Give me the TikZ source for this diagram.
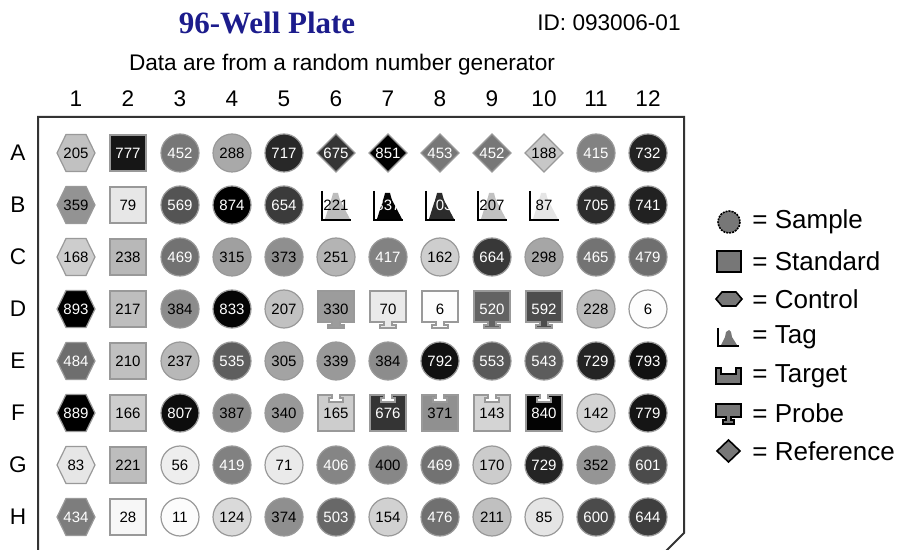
\documentclass[tikz,border=0pt]{standalone}
\usepackage{fontspec}
\setmainfont{Liberation Sans}
\newfontfamily\titlefont{Liberation Serif}
\usetikzlibrary{positioning}
\definecolor{TitleBlue}{HTML}{1C1C8C}
\definecolor{Edge}{HTML}{999999}
\definecolor{Plate}{HTML}{333333}
\definecolor{Key}{HTML}{777777}

\begin{document}
\begin{tikzpicture}[
  x=0.5pt,y=-0.5pt,
  hdr/.style={font=\fontsize{11.3}{13}\selectfont,inner sep=0pt},
  welltext/.style={font=\fontsize{7.5}{8}\selectfont,inner sep=0pt},
  keytext/.style={anchor=west,font=\fontsize{13}{15}\selectfont,inner sep=0pt},
  rim/.style={draw=Edge,line width=0.6pt},
  keyrim/.style={draw=black,line width=0.8pt,fill=Key},
  pics/wellO/.style={code={\path[rim,fill=#1] (0,0) circle (19);}},
  pics/wellS/.style={code={\path[rim,line width=0.9pt,fill=#1] (-18,-18) rectangle (18,18);}},
  pics/wellC/.style={code={\path[rim,fill=#1] (-19,0) -- (-10,-18.5) -- (10,-18.5) -- (19,0) -- (10,18.5) -- (-10,18.5) -- cycle;}},
  pics/wellR/.style={code={\path[rim,fill=#1] (-19,0) -- (0,-19) -- (19,0) -- (0,19) -- cycle;}},
  pics/wellT/.style={code={
    \fill[#1] (-11,14) -- (-5,-5) -- (-4,-8) -- (-3,-12) -- (2,-12) -- (3,-8) -- (4,-5) -- (14,14) -- cycle;
    \draw[line width=1pt] (-14,-14) -- (-14,15) -- (15,15);}},
  pics/wellG/.style={code={\path[rim,line width=0.9pt,fill=#1] (-18,-18) -- (-4,-18) -- (-4,-15) -- (-7,-15) -- (-7,-11) -- (7,-11) -- (7,-15) -- (4,-15) -- (4,-18) -- (18,-18) -- (18,18) -- (-18,18) -- cycle;}},
  pics/wellP/.style={code={\path[rim,line width=0.9pt,fill=#1] (-18,-18) -- (18,-18) -- (18,13) -- (4,13) -- (4,16) -- (8,16) -- (8,19) -- (-8,19) -- (-8,16) -- (-4,16) -- (-4,13) -- (-18,13) -- cycle;}}
]
\useasboundingbox (0,0) rectangle (899,550);

% headings
\node[font=\titlefont\fontsize{15.5}{18}\selectfont\bfseries,text=TitleBlue] (title) at (267,23) {96-Well Plate};
\node[hdr] (plateid) at (609,23) {ID: 093006-01};
\node[hdr] (source) at (342,65) {Data are from a random number generator};
\foreach \c in {1,...,12}
  \node[hdr] (col\c) at ({76+52*(\c-1)},99) {\c};

% plate outline
\draw[Plate,line width=1pt] (38,552) -- (38,117) -- (684,117) -- (684,533) -- (665,552);

% wells: type/value, type O=sample S=standard C=control T=tag G=target P=probe R=reference
\foreach \r/\row [count=\ri] in {
  A/{C/205,S/777,O/452,O/288,O/717,R/675,R/851,R/453,R/452,R/188,O/415,O/732},
  B/{C/359,S/79,O/569,O/874,O/654,T/221,T/837,T/703,T/207,T/87,O/705,O/741},
  C/{C/168,S/238,O/469,O/315,O/373,O/251,O/417,O/162,O/664,O/298,O/465,O/479},
  D/{C/893,S/217,O/384,O/833,O/207,P/330,P/70,P/6,P/520,P/592,O/228,O/6},
  E/{C/484,S/210,O/237,O/535,O/305,O/339,O/384,O/792,O/553,O/543,O/729,O/793},
  F/{C/889,S/166,O/807,O/387,O/340,G/165,G/676,G/371,G/143,G/840,O/142,O/779},
  G/{C/83,S/221,O/56,O/419,O/71,O/406,O/400,O/469,O/170,O/729,O/352,O/601},
  H/{C/434,S/28,O/11,O/124,O/374,O/503,O/154,O/476,O/211,O/85,O/600,O/644}}{
  \node[hdr] (row\r) at (18,{153+52*(\ri-1)}) {\r};
  \foreach \t/\v [count=\c] in \row {
    \pgfmathsetmacro\tone{min(\v/8.5,100)}
    \ifnum\v>400 \def\ink{white}\else\def\ink{black}\fi
    \pic at ({76+52*(\c-1)},{153+52*(\ri-1)}) {well\t={black!\tone}};
    \node[welltext,text=\ink] (\r\c) at ({76+52*(\c-1)},{153+52*(\ri-1)}) {\v};
  }
}

% legend
\draw[keyrim,dash pattern=on 1pt off 0.5pt] (729,222) circle (11);
\node[keytext] (keySample) at (752,222) {= Sample};
\draw[keyrim] (717,251) rectangle (741,272);
\node[keytext] (keyStandard) at (752,261) {= Standard};
\draw[keyrim] (716,299) -- (722,292) -- (736,292) -- (742,299) -- (736,306) -- (722,306) -- cycle;
\node[keytext] (keyControl) at (752,299) {= Control};
\fill[Key] (721,345) -- (725,337) -- (726,332) -- (729,330) -- (731,332) -- (732,337) -- (737,345) -- cycle;
\draw[line width=0.8pt] (718,328) -- (718,346) -- (739,346);
\node[keytext] (keyTag) at (752,337) {= Tag};
\draw[keyrim] (716,368) -- (721,368) -- (721,374) -- (736,374) -- (736,368) -- (741,368) -- (741,384) -- (716,384) -- cycle;
\node[keytext] (keyTarget) at (752,376) {= Target};
\draw[keyrim] (716,404) -- (741,404) -- (741,417) -- (731,417) -- (731,420) -- (734,420) -- (734,424) -- (723,424) -- (723,420) -- (726,420) -- (726,417) -- (716,417) -- cycle;
\node[keytext] (keyProbe) at (752,413) {= Probe};
\draw[keyrim] (717,451) -- (728.5,440) -- (740,451) -- (728.5,462) -- cycle;
\node[keytext] (keyReference) at (752,451) {= Reference};
\end{tikzpicture}
\end{document}
